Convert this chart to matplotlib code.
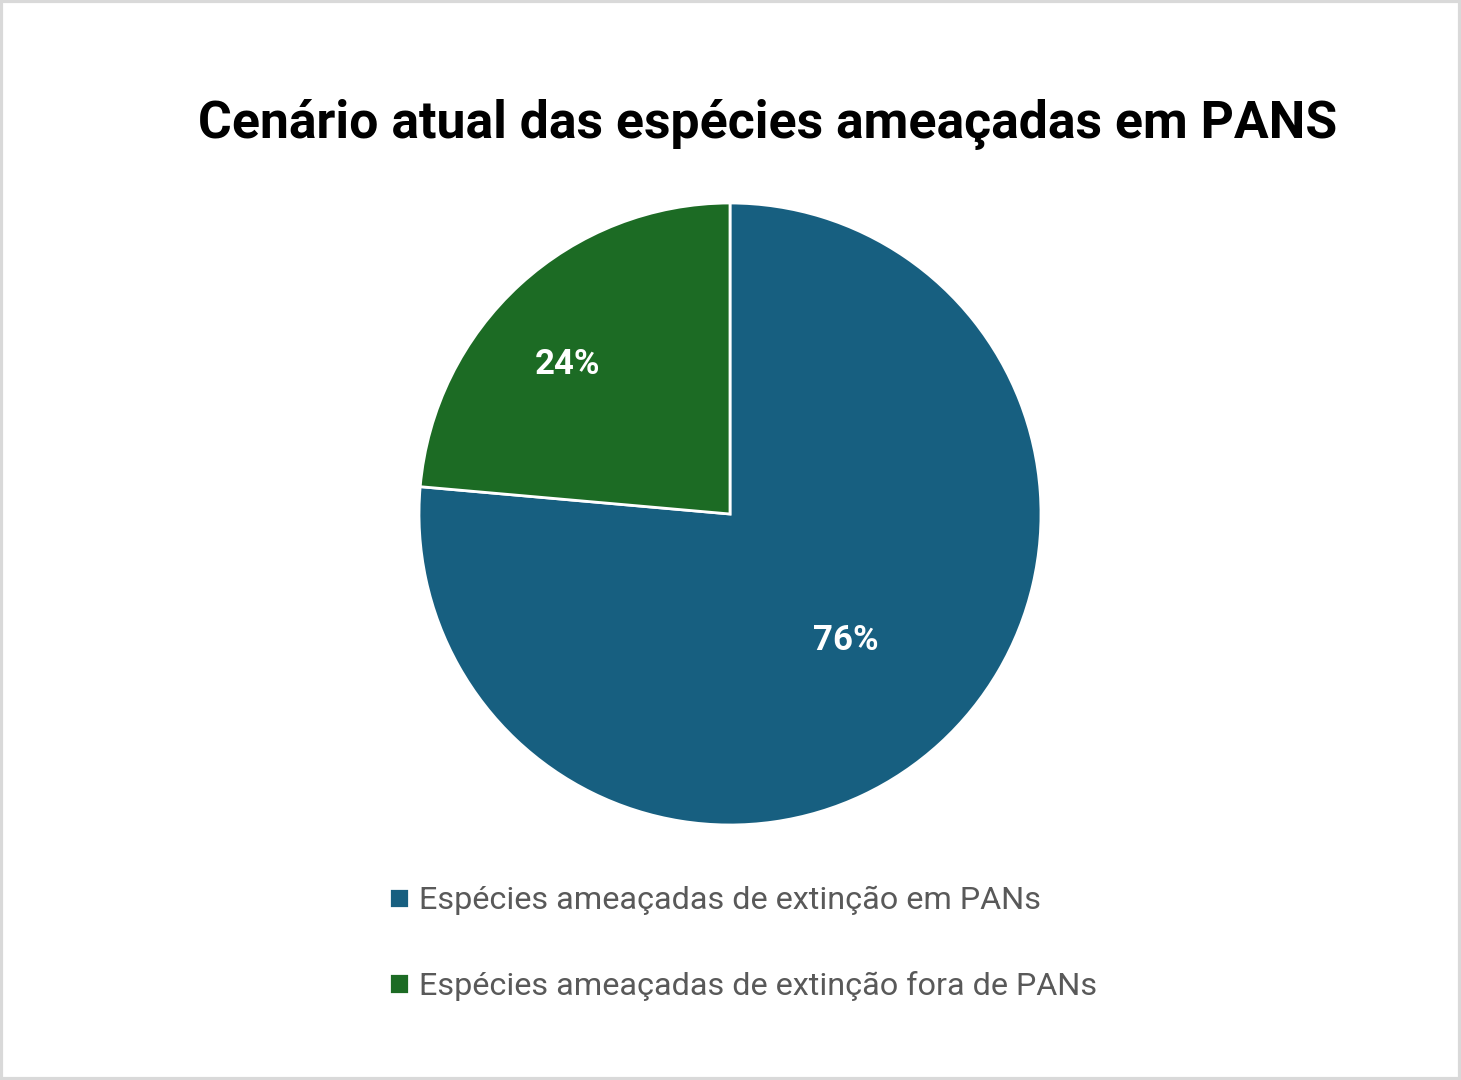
import numpy as np
import matplotlib.pyplot as plt
from matplotlib.patches import Rectangle

# data
categories = ["Espécies ameaçadas de extinção em PANs",
              "Espécies ameaçadas de extinção fora de PANs"]
shares = [76.4, 23.6]
colors = ["#175F80", "#1C6B24"]
label_dist = [0.55, 0.71]
label_turn = [0, 5]   # degrees, nudges the percent labels off the mid angle

plt.rcParams['font.family'] = ['Roboto', 'DejaVu Sans']

fig = plt.figure(figsize=(14.61, 10.80), dpi=100)
fig.patch.set_facecolor("white")
# thin grey frame round the picture
fig.add_artist(Rectangle((0.001, 0.001), 0.998, 0.998, transform=fig.transFigure,
                         fill=False, edgecolor="#d9d9d9", linewidth=3))

ax = fig.add_axes([(730 - 311) / 1461, (1080 - 514 - 311) / 1080, 622 / 1461, 622 / 1080])
wedges, texts, autotexts = ax.pie(
    shares, colors=colors, startangle=90, counterclock=False,
    autopct='%1.0f%%', pctdistance=0.6,
    wedgeprops=dict(edgecolor="white", linewidth=2),
    textprops=dict(color="white", fontsize=25, fontweight="bold"))
for w, t, d, turn in zip(wedges, autotexts, label_dist, label_turn):
    mid = np.deg2rad((w.theta1 + w.theta2) / 2 + turn)
    t.set_position((d * np.cos(mid), d * np.sin(mid)))
ax.set_xlim(-1.0, 1.0)
ax.set_ylim(-1.0, 1.0)

fig.text(768 / 1461, 1 - 124 / 1080, "Cenário atual das espécies ameaçadas em PANS",
         ha="center", va="center", fontsize=37.3, fontweight="bold", color="black")

leg = fig.legend(wedges, categories, loc="upper left",
                 bbox_to_anchor=(360 / 1461, 1 - 857 / 1080),
                 frameon=False, fontsize=23.3, labelcolor="#595959",
                 handlelength=0.62, handleheight=0.62, handletextpad=0.3,
                 labelspacing=1.72)

fig.savefig("out.png", dpi=100, facecolor="white")
